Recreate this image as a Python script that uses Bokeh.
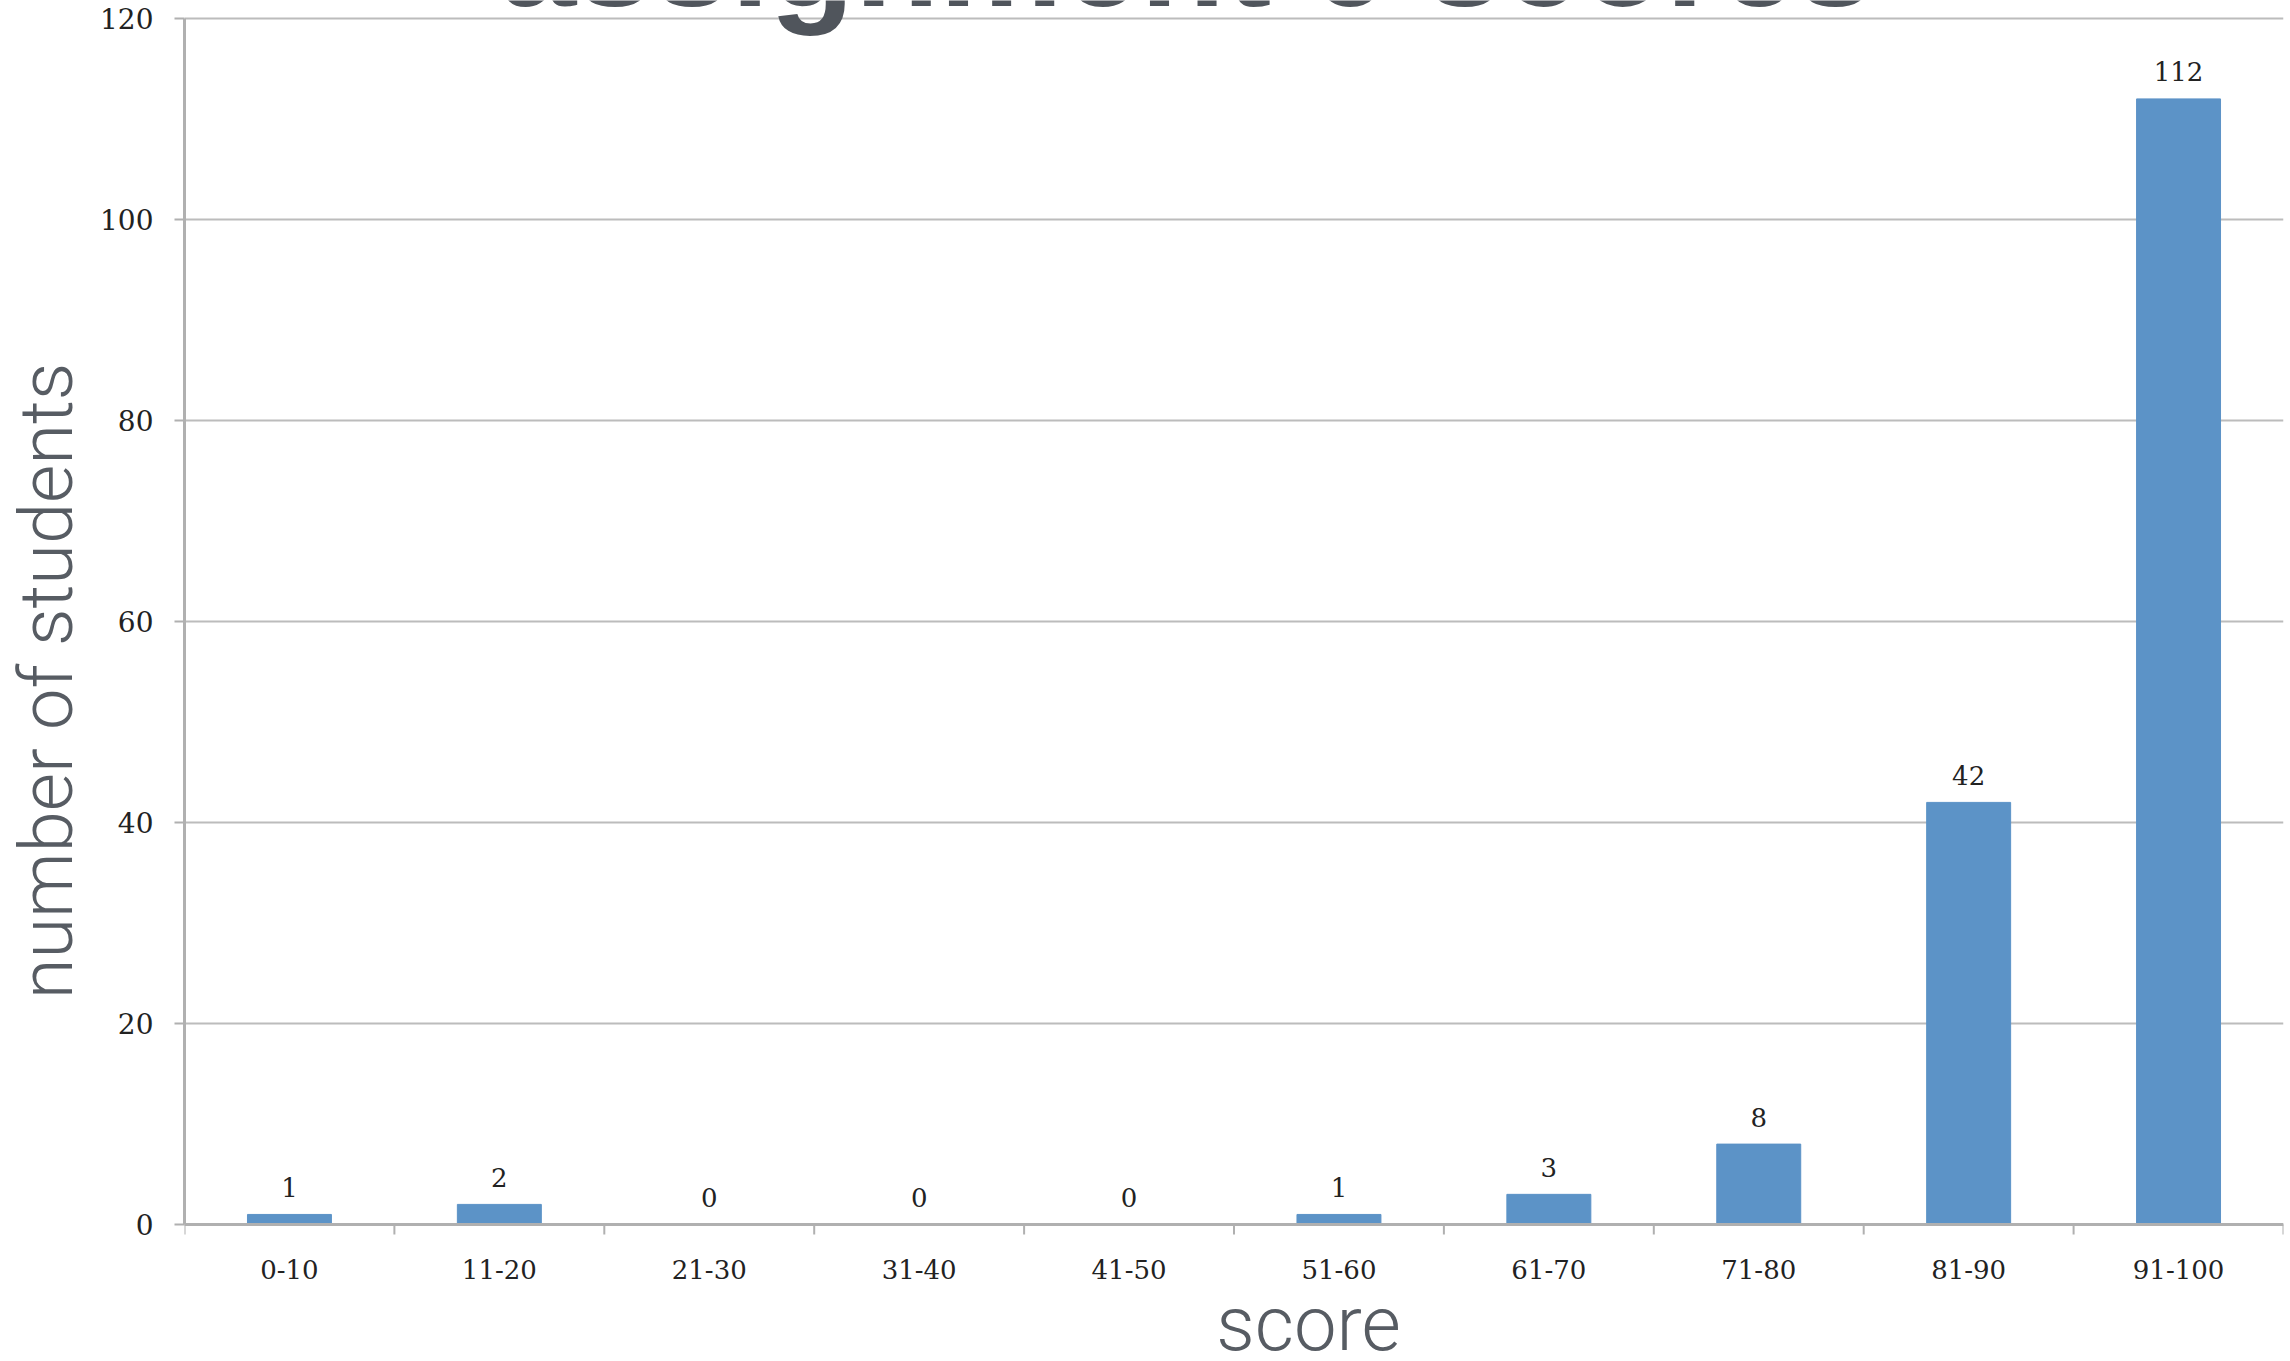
from bokeh.plotting import figure
from bokeh.models import (FactorRange, Range1d, FixedTicker, Label, Span)
from bokeh.core.properties import value
from bokeh.embed import file_html
from bokeh.resources import INLINE

# ---- data ----
categories = ["0-10", "11-20", "21-30", "31-40", "41-50",
              "51-60", "61-70", "71-80", "81-90", "91-100"]
students = [1, 2, 0, 0, 0, 1, 3, 8, 42, 112]
y_ticks = [0, 20, 40, 60, 80, 100, 120]
title_text = "assignment 6 scores"
x_label = "score"
y_label = "number of students"

BAR = "#5c93c7"
GRID = "#bcbcbc"
AXIS = "#b0b0b0"
SERIF = "DejaVu Serif"

# layout constants: the frame fills the full canvas height so that the
# slide-style title (cut at the top) and the x title are drawn inside it
H = 1361
Y_MAX = 120
PX = 1206 / Y_MAX          # pixels per student
TOP_PAD = 18               # px above the 120 line
BOTTOM_PAD = 137           # px below the 0 line

p = figure(width=2290, height=H,
           x_range=FactorRange(factors=categories, range_padding=0, factor_padding=0),
           y_range=Range1d(-BOTTOM_PAD / PX, Y_MAX + TOP_PAD / PX),
           x_axis_location=None,
           output_backend="svg", toolbar_location=None,
           min_border_left=184, min_border_right=7,
           min_border_top=0, min_border_bottom=0)
p.outline_line_color = None
p.background_fill_color = "white"
p.border_fill_color = "white"

# grids
for g in p.grid:
    if g.dimension == 0:
        g.visible = False
    else:
        g.grid_line_color = GRID
        g.grid_line_width = 2

# bars
p.vbar(x=categories, top=students, width=0.4, color=BAR, line_color=BAR)

# value labels
p.text(x=categories, y=students, text=[str(v) for v in students],
       text_align="center", text_baseline="alphabetic", y_offset=-27,
       text_font=value(SERIF), text_font_size="26px",
       text_color="#222222")

# y axis
yax = p.yaxis[0]
yax.ticker = FixedTicker(ticks=y_ticks)
yax.bounds = (0, Y_MAX)
yax.axis_line_color = AXIS
yax.axis_line_width = 3
yax.major_tick_line_color = AXIS
yax.major_tick_line_width = 2
yax.major_tick_out = 10
yax.major_tick_in = 0
yax.minor_tick_line_color = None
yax.major_label_standoff = 21
yax.major_label_text_font = SERIF
yax.major_label_text_font_size = "28px"
yax.major_label_text_color = "#222222"
yax.axis_label = y_label
yax.axis_label_text_font = "Roboto Light"
yax.axis_label_text_font_style = "normal"
yax.axis_label_text_font_size = "74px"
yax.axis_label_text_color = "#575c63"
yax.axis_label_standoff = 7

# x axis drawn inside the frame: baseline, boundary ticks, category labels
p.add_layout(Span(location=0, dimension="width", line_color=AXIS, line_width=3))
n = len(categories)
bounds = [float(i) for i in range(n + 1)]
p.segment(x0=bounds, y0=[0] * (n + 1), x1=bounds, y1=[-10 / PX] * (n + 1),
          line_color=AXIS, line_width=2)
p.text(x=categories, y=[0] * n, text=categories,
       text_align="center", text_baseline="alphabetic", y_offset=45,
       text_font=value(SERIF), text_font_size="26px", text_color="#222222")

# title (cut off at top edge as in the original slide)
p.add_layout(Label(x=4.774, y=126.07, text=title_text,
                   text_align="center", text_baseline="alphabetic",
                   text_font="Liberation Sans", text_font_style="bold",
                   text_font_size="139px", text_color="#50555c"))

# x axis title
p.add_layout(Label(x=5.355, y=-9.95, text=x_label,
                   text_align="center", text_baseline="alphabetic",
                   text_font="Roboto Light", text_font_size="76px",
                   text_color="#575c63"))

open("out.html", "w").write(file_html(p, INLINE))
